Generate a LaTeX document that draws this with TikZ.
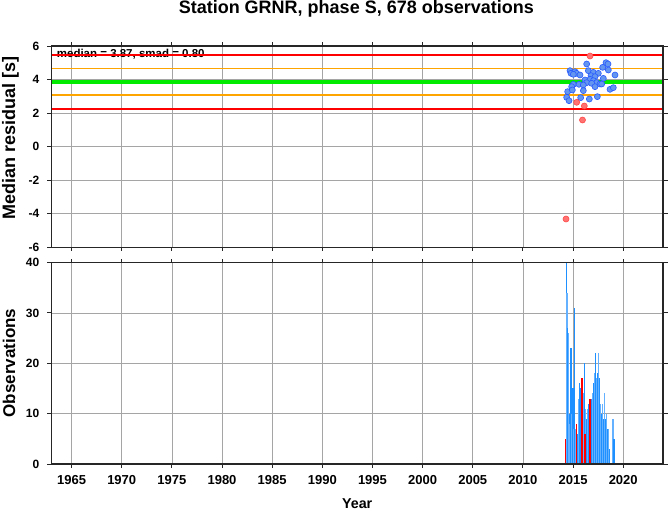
\documentclass[tikz,border=0pt]{standalone}
\usepackage{fontspec}
\setmainfont{Liberation Sans}
\definecolor{gridc}{RGB}{165,165,165}
\definecolor{dblue}{RGB}{30,144,255}
\definecolor{lblue}{RGB}{100,178,255}
\definecolor{ptblue}{RGB}{100,150,240}
\definecolor{ptedge}{RGB}{40,90,255}
\definecolor{ptred}{RGB}{255,115,115}
\definecolor{ptrededge}{RGB}{255,70,70}
\definecolor{lorange}{RGB}{255,165,0}
\definecolor{lgreen}{RGB}{0,235,0}
\definecolor{lred}{RGB}{255,0,0}
\tikzset{
  gridline/.style={draw=gridc, line width=0.6pt},
  frame/.style={draw=black!85, line width=1.4pt},
  tickmark/.style={draw=black!85, line width=0.9pt},
  ylab/.style={anchor=east, font=\bfseries\fontsize{12}{12}\selectfont, inner sep=0pt},
  xlab/.style={anchor=base, font=\bfseries\fontsize{13}{13}\selectfont, inner sep=0pt},
  axlab/.style={anchor=base, inner sep=0pt},
  bluept/.style={fill=ptblue, draw=ptedge, line width=0.6pt},
  redpt/.style={fill=ptred, draw=ptrededge, line width=0.6pt},
}
\begin{document}
\begin{tikzpicture}[x=1pt,y=-1pt]
\useasboundingbox (0,0) rectangle (669,511);
\fill[white] (0,0) rectangle (669,511);

% vertical grid, ticks and year labels
\foreach \yr in {1965,1970,...,2020}{
  \pgfmathsetmacro\gx{51.5+10.03*(\yr-1963)}
  \draw[gridline] (\gx,46.2) -- (\gx,247.3);
  \draw[gridline] (\gx,262.5) -- (\gx,464);
  \draw[tickmark] (\gx,46.2) -- (\gx,42.2);
  \draw[tickmark] (\gx,247.3) -- (\gx,251.3);
  \draw[tickmark] (\gx,262.5) -- (\gx,258.5);
  \draw[tickmark] (\gx,464) -- (\gx,468);
  \node[xlab] (yr\yr) at (\gx,484.3) {\yr};
}

% top panel horizontal grid and labels
\foreach \v in {6,4,2,0,-2,-4,-6}{
  \pgfmathsetmacro\gy{46.2+16.758*(6-\v)}
  \ifnum\v<6 \ifnum\v>-6 \draw[gridline] (51.5,\gy) -- (663,\gy); \fi\fi
  \draw[tickmark] (51.5,\gy) -- (46.5,\gy);
  \draw[tickmark] (663,\gy) -- (668,\gy);
  \node[ylab] (tl\v) at (39.5,\gy) {\v};
}

% bottom panel horizontal grid and labels
\foreach \c in {0,10,20,30,40}{
  \pgfmathsetmacro\gy{464-5.0375*\c}
  \ifnum\c>0 \ifnum\c<40 \draw[gridline] (51.5,\gy) -- (663,\gy); \fi\fi
  \draw[tickmark] (51.5,\gy) -- (46.5,\gy);
  \draw[tickmark] (663,\gy) -- (668,\gy);
  \node[ylab] (bl\c) at (39.5,\gy) {\c};
}

% median text
\node[anchor=base west, inner sep=0pt, font=\bfseries\fontsize{11.5}{11.5}\selectfont] (medtxt) at (56.7,57.3) {median = 3.87, smad = 0.80};

% statistic lines
\draw[lred, line width=2pt] (51.5,55.1) -- (663,55.1);
\draw[lorange, line width=1.8pt] (51.5,68.5) -- (663,68.5);
\draw[lgreen, line width=4pt] (51.5,81.9) -- (663,81.9);
\draw[lorange, line width=1.8pt] (51.5,95.3) -- (663,95.3);
\draw[lred, line width=2pt] (51.5,108.7) -- (663,108.7);

% scatter points
\foreach \a/\b in {140/72,198/68,204/72,188/82,205/90,225/105,
  90/92,93/100,105/95,110/100,120/105,100/103,
  145/92,160/97,175/100,153/107,165/110,
  135/120,150/118,160/122,140/128,170/128,180/132,190/115,155/130,
  100/133,117/133,95/140,130/135,165/140,185/132,
  83/155,97/150,130/152,210/148,220/143,
  80/172,87/182,122/173,148/177,172/170}{
  \draw[bluept] ({540+\a/3},{40+\b/3}) circle (3);
}
\foreach \px/\py in {590/56,576.7/102.3,584.3/106,582.5/120,566/219}{
  \draw[redpt] (\px,\py) circle (3);
}

% bars
\foreach \bx/\bc [count=\i] in {566.3/40,567/34,567.7/27,568.7/26,569.3/10,570/8,571/23,572/10,573/15,573.7/7,574.7/31,575.3/7,577.3/6,578.3/13,579.3/16,580.3/5,581/15,583.3/14,584.3/20,585.3/11,586.3/9,587.3/11,588.7/12,590.7/10,591.7/13,592.7/14,593.7/16,594.7/18,595.7/22,596.7/17,597.7/18,598.7/22,599.7/17,600.7/12,601.7/10,602.7/12,603.7/9,604.7/14,605.7/9,606.7/10,607.7/7,608.7/7,609.7/3,613/9,614/5}{
  \ifodd\i \def\bcol{dblue}\else\def\bcol{lblue}\fi
  \fill[\bcol] ({\bx-0.6},464) rectangle ({\bx+0.6},{464-5.0375*\bc});
}
\foreach \bx/\bc in {565.5/5,576.3/8,581.8/17,585.2/6,589.8/13}{
  \fill[lred] ({\bx-0.75},464) rectangle ({\bx+0.75},{464-5.0375*\bc});
}

% frames
\draw[frame] (51.5,46.2) rectangle (663,247.3);
\draw[frame] (51.5,262.5) rectangle (663,464);

% titles and axis labels
\node[axlab, font=\bfseries\fontsize{18}{18}\selectfont] (title) at (356.3,14) {Station GRNR, phase S, 678 observations};
\node[axlab, rotate=90, font=\bfseries\fontsize{18}{18}\selectfont] (ylabtop) at (15,138) {Median residual [s]};
\node[axlab, rotate=90, font=\bfseries\fontsize{17}{17}\selectfont] (ylabbot) at (15,363) {Observations};
\node[axlab, font=\bfseries\fontsize{14.3}{14.3}\selectfont] (xlab) at (357.2,508) {Year};
\end{tikzpicture}
\end{document}
